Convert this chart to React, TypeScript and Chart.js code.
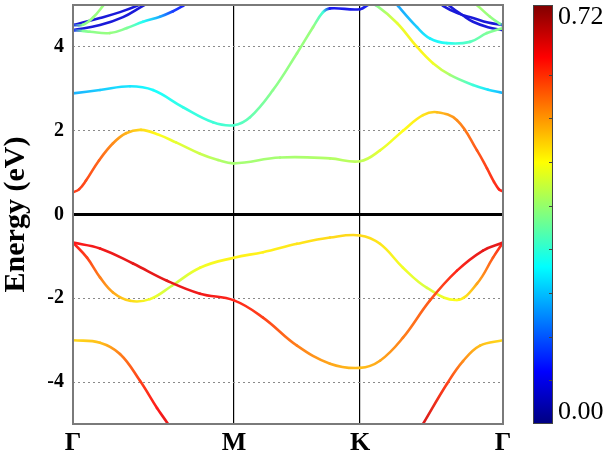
import React, { useEffect, useRef } from "react";
import { Chart, registerables } from "chart.js";
Chart.register(...registerables);

// ---- axes / scale data ----
const kTicks = [0, 161, 287, 430];
const kLabels = ["Γ", "M", "K", "Γ"];
const yTicks = [-4, -2, 0, 2, 4];
const yMin = -5;
const yMax = 5;
const wMin = 0;
const wMax = 0.72;
const cbTicks = [0.075, 0.15, 0.225, 0.3, 0.375, 0.45, 0.525, 0.6];

// ---- bands: k position, energy (eV), weight ----
const c1K = [0, 6, 13, 26, 40, 53, 68, 86, 103, 127, 145, 161, 207, 257, 287, 307, 330, 350, 364, 384, 404, 414, 421, 426, 430];
const c1E = [0.53, 0.6, 0.81, 1.29, 1.7, 1.94, 2.02, 1.9, 1.72, 1.45, 1.3, 1.22, 1.36, 1.34, 1.27, 1.53, 2.0, 2.37, 2.44, 2.25, 1.53, 1.1, 0.78, 0.6, 0.55];
const c1W = [0.6, 0.6, 0.59, 0.57, 0.54, 0.51, 0.48, 0.45, 0.43, 0.41, 0.39, 0.38, 0.38, 0.39, 0.4, 0.43, 0.45, 0.47, 0.5, 0.54, 0.58, 0.6, 0.61, 0.62, 0.62];

const c2K = [0, 27, 57, 80, 110, 140, 161, 177, 200, 224, 240, 250, 257, 287, 297, 304, 324, 344, 360, 377, 400, 415, 430];
const c2E = [2.89, 2.97, 3.06, 2.97, 2.56, 2.2, 2.13, 2.32, 2.97, 3.85, 4.47, 4.83, 4.92, 4.9, 5.02, 4.98, 4.57, 4.0, 3.61, 3.33, 3.09, 2.98, 2.9];
const c2W = [0.21, 0.23, 0.25, 0.27, 0.29, 0.3, 0.31, 0.33, 0.36, 0.37, 0.37, 0.3, 0.08, 0.07, 0.1, 0.36, 0.43, 0.46, 0.44, 0.38, 0.3, 0.25, 0.21];

const c3K = [318, 325, 344, 357, 374, 397, 414, 430];
const c3E = [5.2, 4.98, 4.47, 4.2, 4.09, 4.12, 4.33, 4.45];
const c3W = [0.2, 0.2, 0.23, 0.26, 0.28, 0.32, 0.35, 0.36];

const r1K = [365, 370, 385, 400, 415, 430];
const r1E = [5.1, 4.98, 4.8, 4.69, 4.58, 4.52];
const r1W = [0.06, 0.06, 0.06, 0.06, 0.06, 0.06];

const r2K = [372, 377, 390, 400, 415, 430];
const r2E = [5.1, 4.97, 4.75, 4.6, 4.47, 4.4];
const r2W = [0.06, 0.06, 0.06, 0.06, 0.06, 0.06];

const r3K = [400, 404, 417, 427, 430];
const r3E = [5.1, 5.0, 4.72, 4.55, 4.52];
const r3W = [0.38, 0.38, 0.37, 0.35, 0.1];

const l1K = [0, 27, 47, 64, 75];
const l1E = [4.52, 4.69, 4.83, 4.98, 5.1];
const l1W = [0.06, 0.06, 0.06, 0.06, 0.06];

const l2K = [0, 27, 50, 70, 80];
const l2E = [4.4, 4.52, 4.71, 4.98, 5.1];
const l2W = [0.06, 0.06, 0.06, 0.06, 0.06];

const l3K = [0, 10, 20, 30, 35];
const l3E = [4.52, 4.53, 4.7, 4.98, 5.15];
const l3W = [0.1, 0.36, 0.37, 0.37, 0.37];

const l4K = [0, 10, 17, 37, 54, 70, 87, 100, 110, 118];
const l4E = [4.4, 4.38, 4.36, 4.33, 4.45, 4.6, 4.72, 4.85, 4.98, 5.1];
const l4W = [0.1, 0.35, 0.36, 0.37, 0.35, 0.28, 0.2, 0.12, 0.1, 0.1];

const vaK = [0, 27, 60, 94, 127, 161, 190, 224, 257, 287, 307, 330, 357, 384, 410, 430];
const vaE = [-0.67, -0.81, -1.17, -1.58, -1.89, -2.05, -2.46, -3.13, -3.56, -3.66, -3.49, -2.94, -2.05, -1.34, -0.86, -0.67];
const vaW = [0.63, 0.64, 0.65, 0.65, 0.64, 0.62, 0.6, 0.55, 0.52, 0.5, 0.52, 0.55, 0.58, 0.62, 0.65, 0.65];

const vbK = [0, 14, 27, 40, 57, 77, 99, 127, 161, 190, 224, 257, 287, 307, 330, 354, 384, 404, 420, 430];
const vbE = [-0.67, -1.03, -1.5, -1.86, -2.06, -2.02, -1.7, -1.27, -1.03, -0.9, -0.7, -0.55, -0.5, -0.7, -1.27, -1.75, -2.04, -1.65, -1.03, -0.67];
const vbW = [0.63, 0.6, 0.55, 0.52, 0.48, 0.44, 0.41, 0.44, 0.46, 0.46, 0.47, 0.48, 0.48, 0.47, 0.44, 0.42, 0.45, 0.52, 0.58, 0.63];

const vcLK = [0, 27, 47, 67, 84, 95, 105];
const vcLE = [-3.0, -3.06, -3.33, -3.97, -4.62, -5.0, -5.4];
const vcLW = [0.48, 0.5, 0.55, 0.6, 0.63, 0.65, 0.65];

const vcRK = [340, 350, 374, 390, 407, 430];
const vcRE = [-5.4, -5.0, -4.04, -3.5, -3.13, -3.0];
const vcRW = [0.66, 0.66, 0.6, 0.54, 0.5, 0.48];

const bands = [
  { k: vcLK, e: vcLE, w: vcLW },
  { k: vcRK, e: vcRE, w: vcRW },
  { k: vaK, e: vaE, w: vaW },
  { k: vbK, e: vbE, w: vbW },
  { k: c1K, e: c1E, w: c1W },
  { k: c2K, e: c2E, w: c2W },
  { k: c3K, e: c3E, w: c3W },
  { k: l4K, e: l4E, w: l4W },
  { k: l3K, e: l3E, w: l3W },
  { k: r3K, e: r3E, w: r3W },
  { k: l1K, e: l1E, w: l1W },
  { k: l2K, e: l2E, w: l2W },
  { k: r1K, e: r1E, w: r1W },
  { k: r2K, e: r2E, w: r2W },
];

function jetRGB(w: number): number[] {
  const t = Math.min(1, Math.max(0, (w - wMin) / (wMax - wMin)));
  const f = (x: number) => 255 * Math.min(1, Math.max(0, 1.5 - Math.abs(x)));
  return [f(4 * t - 3), f(4 * t - 2), f(4 * t - 1)];
}
function jet(w: number, lighten = 0): string {
  const c = jetRGB(w).map((v) => Math.round(v + (255 - v) * lighten));
  return `rgb(${c[0]},${c[1]},${c[2]})`;
}

const LINE_LIGHTEN = 0.1;

const framePlugin = {
  id: "frameAndColorbar",
  afterDatasetsDraw(chart: any) {
    const { ctx, chartArea: a } = chart;
    ctx.save();
    ctx.strokeStyle = "#7a7a7a";
    ctx.lineWidth = 2;
    ctx.strokeRect(a.left, a.top, a.right - a.left, a.bottom - a.top);

    const x0 = a.right + 30;
    const bw = 20;
    const h = a.bottom - a.top;
    const g = ctx.createLinearGradient(0, a.bottom, 0, a.top);
    for (let i = 0; i <= 40; i++) {
      g.addColorStop(i / 40, jet(wMin + ((wMax - wMin) * i) / 40));
    }
    ctx.fillStyle = g;
    ctx.fillRect(x0, a.top, bw, h);
    ctx.strokeStyle = "#444";
    ctx.lineWidth = 1;
    ctx.strokeRect(x0 + 0.5, a.top + 0.5, bw - 1, h - 1);
    cbTicks.forEach((v) => {
      const y = Math.round(a.bottom - ((v - wMin) / (wMax - wMin)) * h) + 0.5;
      ctx.beginPath();
      ctx.moveTo(x0 + bw - 4, y);
      ctx.lineTo(x0 + bw, y);
      ctx.stroke();
    });
    ctx.fillStyle = "#000";
    ctx.font = '26px "Liberation Serif"';
    ctx.textAlign = "left";
    ctx.textBaseline = "middle";
    ctx.fillText(wMax.toFixed(2), x0 + 25, a.top + 12);
    ctx.fillText(wMin.toFixed(2), x0 + 25, a.bottom - 12);
    ctx.restore();
  },
};

export default function App() {
  const canvasRef = useRef<HTMLCanvasElement | null>(null);

  useEffect(() => {
    const canvas = canvasRef.current!;
    const c2d = canvas.getContext("2d")!;
    const datasets = bands.map((b) => ({
      data: b.k.map((x, i) => ({ x, y: b.e[i] })),
      borderWidth: 2.6,
      pointRadius: 0,
      borderCapStyle: "round",
      borderJoinStyle: "round",
      tension: 0.4,
      borderColor: jet(b.w[0], LINE_LIGHTEN),
      fill: false,
      clip: 0,
      segment: {
        borderColor: (ctx: any) => {
          const a0 = jet(b.w[ctx.p0DataIndex], LINE_LIGHTEN);
          const a1 = jet(b.w[ctx.p1DataIndex], LINE_LIGHTEN);
          if (a0 === a1) return a0;
          const gr = c2d.createLinearGradient(ctx.p0.x, ctx.p0.y, ctx.p1.x, ctx.p1.y);
          gr.addColorStop(0, a0);
          gr.addColorStop(1, a1);
          return gr;
        },
      },
    }));

    const chart = new Chart(canvas, {
      type: "line",
      data: { datasets } as any,
      options: {
        animation: false,
        responsive: true,
        maintainAspectRatio: false,
        events: [],
        layout: { padding: { top: 5, right: 105, left: 0, bottom: 0 } },
        plugins: { legend: { display: false }, tooltip: { enabled: false } },
        scales: {
          x: {
            type: "linear",
            min: kTicks[0],
            max: kTicks[kTicks.length - 1],
            afterBuildTicks: (s: any) => {
              s.ticks = kTicks.map((v) => ({ value: v }));
            },
            afterFit: (s: any) => {
              s.height = 35;
              s.paddingLeft = 0;
              s.paddingRight = 0;
            },
            ticks: {
              autoSkip: false,
              maxRotation: 0,
              padding: 4,
              color: "#000",
              font: { family: '"Liberation Serif"', size: 26, weight: "bold" },
              callback: (_v: any, i: number) => kLabels[i],
            },
            grid: { color: "#000", lineWidth: 1.2, drawTicks: false },
            border: { display: false },
          },
          y: {
            type: "linear",
            min: yMin,
            max: yMax,
            afterBuildTicks: (s: any) => {
              s.ticks = yTicks.map((v) => ({ value: v }));
            },
            afterFit: (s: any) => {
              s.width = 73;
              s.paddingTop = 0;
              s.paddingBottom = 0;
            },
            ticks: {
              padding: 9,
              color: "#000",
              font: { family: '"Liberation Serif"', size: 20, weight: "bold" },
              callback: (v: any) => String(v),
            },
            grid: {
              drawTicks: false,
              color: (ctx: any) => (ctx.tick && ctx.tick.value === 0 ? "#000" : "#8a8a8a"),
              lineWidth: (ctx: any) => (ctx.tick && ctx.tick.value === 0 ? 3 : 1),
            },
            border: {
              display: false,
              dash: (ctx: any) => (ctx.tick && ctx.tick.value === 0 ? [] : [2, 3]),
            },
            title: {
              display: true,
              text: "Energy (eV)",
              color: "#000",
              padding: { top: 0, bottom: 0 },
              font: { family: '"Liberation Serif"', size: 30, weight: "bold", lineHeight: 1.1 },
            },
          },
        },
      } as any,
      plugins: [framePlugin],
    });
    return () => chart.destroy();
  }, []);

  return (
    <div style={{ position: "fixed", left: 0, top: 0, width: 608, height: 459, background: "#fff" }}>
      <canvas ref={canvasRef} />
    </div>
  );
}
